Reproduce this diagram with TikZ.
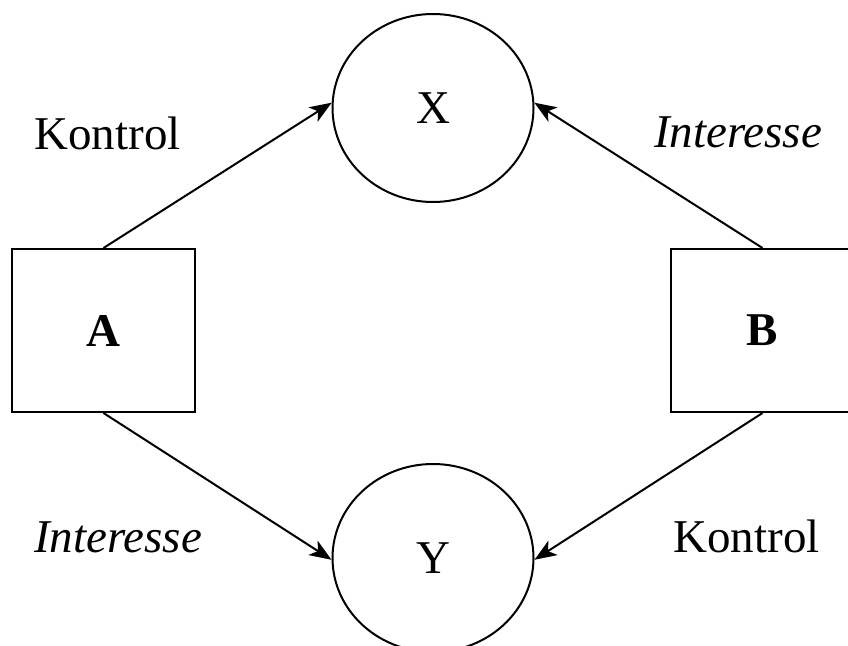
\documentclass[tikz,border=0pt]{standalone}
\usepackage{fontspec}
\setmainfont{Liberation Serif}
\usetikzlibrary{arrows.meta,shapes.geometric}
\tikzset{
  >={Stealth[length=22pt,width=17pt,inset=6pt]},
  flow/.style={->,line width=2pt},
  box/.style={draw,line width=2pt,minimum width=183pt,minimum height=163pt,
    inner sep=0pt,font=\fontsize{47}{56}\selectfont\bfseries},
  circlebox/.style={ellipse,draw,line width=2pt,minimum width=201pt,
    minimum height=188pt,inner sep=0pt,font=\fontsize{47}{56}\selectfont},
  tag/.style={anchor=base,inner sep=0pt,font=\fontsize{47}{56}\selectfont}
}

\begin{document}
\begin{tikzpicture}[x=1pt,y=-1pt]
  \useasboundingbox (0,0) rectangle (848,645);
  \node[box] (a) at (103.5,330.5) {A};
  \node[box] (b) at (762.5,330.5) {B};
  \node[circlebox] (x) at (433,108) {X};
  \node[circlebox] (y) at (433,558) {Y};
  \draw[flow] (a.north) -- (x.177);
  \draw[flow] (b.north) -- (x.3);
  \draw[flow] (a.south) -- (y.181);
  \draw[flow] (b.south) -- (y.359);
  \node[tag] (k1) at (107.5,149) {Kontrol};
  \node[tag] (i1) at (738,147) {\itshape Interesse};
  \node[tag] (i2) at (118,552) {\itshape Interesse};
  \node[tag] (k2) at (746.5,552) {Kontrol};
\end{tikzpicture}
\end{document}
